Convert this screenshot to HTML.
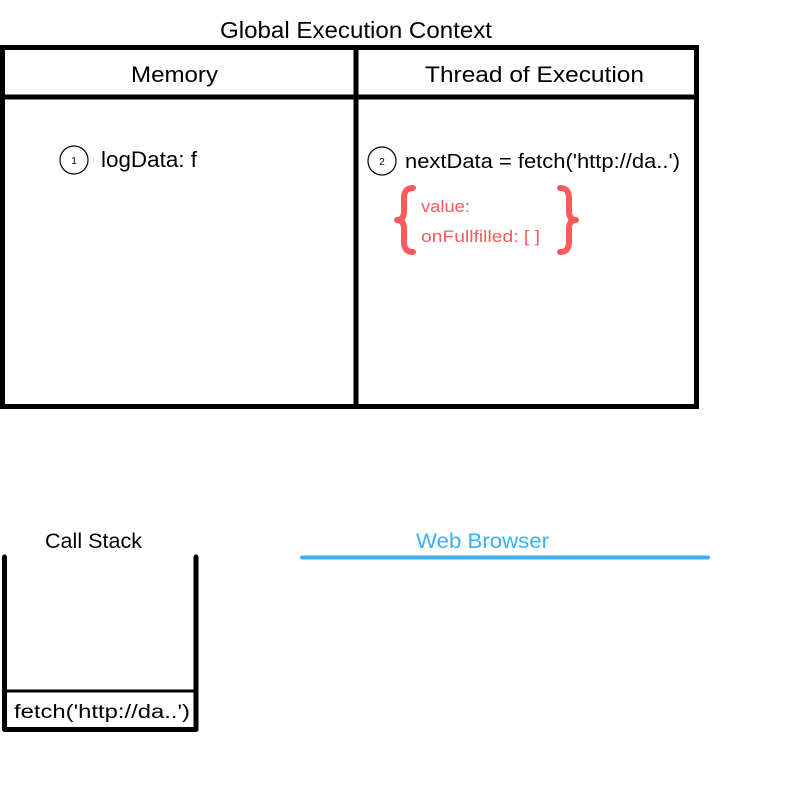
<!DOCTYPE html>
<html><head><style>body{margin:0;background:#fff}</style></head><body>
<svg width="800" height="800" viewBox="0 0 800 800" xmlns="http://www.w3.org/2000/svg" font-family="Liberation Sans, sans-serif">
<rect width="800" height="800" fill="#fff"/>
<text x="220" y="38" font-size="23" textLength="272" lengthAdjust="spacingAndGlyphs">Global Execution Context</text>
<rect x="2.5" y="47.5" width="694" height="359" fill="none" stroke="#000" stroke-width="5"/>
<line x1="2" y1="97" x2="697" y2="97" stroke="#000" stroke-width="5"/>
<line x1="356" y1="47" x2="356" y2="407" stroke="#000" stroke-width="5"/>
<text x="131" y="82" font-size="22" textLength="87" lengthAdjust="spacingAndGlyphs">Memory</text>
<text x="425" y="82" font-size="22" textLength="219" lengthAdjust="spacingAndGlyphs">Thread of Execution</text>
<circle cx="74" cy="160" r="14" fill="none" stroke="#000" stroke-width="1.2"/>
<text x="74" y="164" font-size="10" text-anchor="middle">1</text>
<text x="101" y="167" font-size="22" textLength="96" lengthAdjust="spacingAndGlyphs">logData: f</text>
<circle cx="382" cy="161" r="14" fill="none" stroke="#000" stroke-width="1.2"/>
<text x="382" y="165" font-size="10" text-anchor="middle">2</text>
<text x="405" y="168" font-size="20" textLength="275" lengthAdjust="spacingAndGlyphs">nextData = fetch('http://da..')</text>
<path d="M413 188 Q404 188 404 198 V211 Q404 220 397 220 Q404 220 404 229 V242 Q404 252 413 252" fill="none" stroke="#fa5a5a" stroke-width="6" stroke-linecap="round" stroke-linejoin="round"/>
<path d="M560 188 Q569 188 569 198 V211 Q569 220 576 220 Q569 220 569 229 V242 Q569 252 560 252" fill="none" stroke="#fa5a5a" stroke-width="6" stroke-linecap="round" stroke-linejoin="round"/>
<text x="421" y="212" font-size="17" fill="#fa5a5a" textLength="49" lengthAdjust="spacingAndGlyphs">value:</text>
<text x="421" y="242" font-size="17" fill="#fa5a5a" textLength="119" lengthAdjust="spacingAndGlyphs">onFullfilled: [ ]</text>
<text x="45" y="548" font-size="21" textLength="97" lengthAdjust="spacingAndGlyphs">Call Stack</text>
<path d="M4.5 557 V729.5 H196 V557" fill="none" stroke="#000" stroke-width="5" stroke-linejoin="round" stroke-linecap="round"/>
<line x1="4" y1="691" x2="196" y2="691" stroke="#000" stroke-width="3"/>
<text x="14" y="718" font-size="19" textLength="176" lengthAdjust="spacingAndGlyphs">fetch('http://da..')</text>
<text x="416" y="548" font-size="21" fill="#3bb0f5" textLength="133" lengthAdjust="spacingAndGlyphs">Web Browser</text>
<line x1="302" y1="557.5" x2="708" y2="557.5" stroke="#3bb0f5" stroke-width="4" stroke-linecap="round"/>
</svg>
</body></html>
